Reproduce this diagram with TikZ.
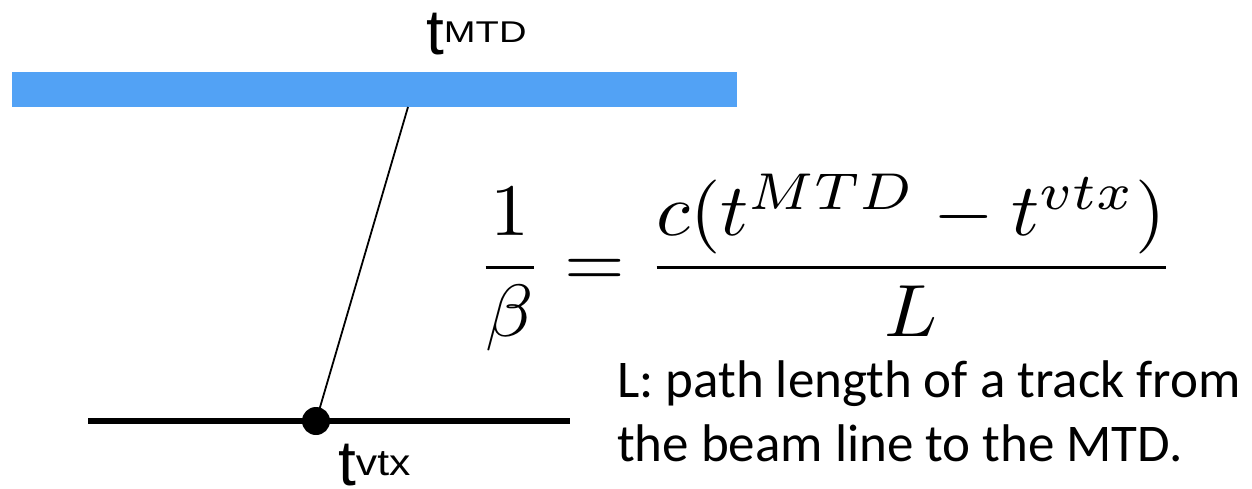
\documentclass[tikz,border=0pt]{standalone}
\usepackage{fontspec}
\setmainfont{Liberation Sans}
\newfontfamily\calib{Carlito}
\definecolor{mtdblue}{RGB}{82,162,245}
\begin{document}
\begin{tikzpicture}[x=1pt,y=-1pt,
  lbl/.style={inner sep=0pt, anchor=base west},
  thinline/.style={line width=1.8pt},
  beamline/.style={line width=5.5pt}]
\useasboundingbox (0,0) rectangle (1252,489);
% MTD bar
\fill[mtdblue] (12,72) rectangle (737,107);
\coordinate (mtdhit) at (408,107);
% beam line
\coordinate (bl) at (88,421);
\coordinate (br) at (570,421);
\draw[beamline] (bl) -- (br);
\node[circle, fill=black, minimum size=28pt, inner sep=0pt] (vtx) at (316,421) {};
\draw[thinline] (mtdhit) -- (vtx.center);
% labels
\node[lbl] (tmtd) at (426,55) {\fontsize{64}{68}\selectfont t\raisebox{12pt}{\scalebox{1.27}[1]{\fontsize{30}{32}\selectfont MTD}}};
\node[lbl] (tvtx) at (338,485) {\fontsize{64}{68}\selectfont t\raisebox{10pt}{\scalebox{1.15}[1]{\fontsize{37}{40}\selectfont vtx}}};
% equation
\node[lbl] (eq) at (476,286) {\scalebox{7.8}[7.4]{$\displaystyle \frac{1}{\beta} = \frac{c(t^{MTD}-t^{vtx})}{L}$}};
% description
\node[lbl] (desc) at (617,397) {\calib\fontsize{53}{64}\selectfont L: path length of a track from};
\node[lbl] (desc2) at (617,461) {\calib\fontsize{53}{64}\selectfont the beam line to the MTD.};
\end{tikzpicture}
\end{document}
